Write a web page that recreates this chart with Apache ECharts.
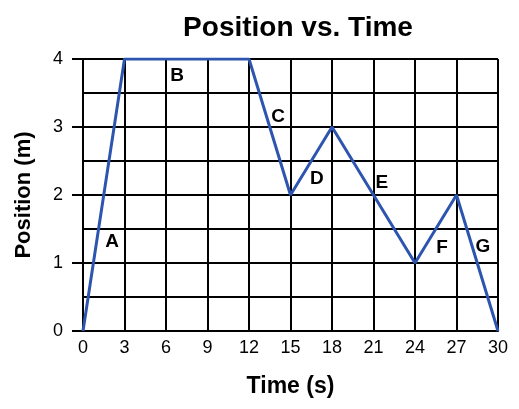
<!DOCTYPE html>
<html>
<head>
<meta charset="utf-8">
<script src="https://cdn.jsdelivr.net/npm/echarts@6/dist/echarts.min.js"></script>
<style>html,body{margin:0;padding:0;background:#fff;}#c{width:519px;height:409px;}</style>
</head>
<body>
<div id="c"></div>
<script>
var times = [0, 3, 6, 9, 12, 15, 18, 21, 24, 27, 30];
var positions = [0, 4, 4, 4, 4, 2, 3, 2, 1, 2, 0];
var segNames = ['A', 'B', 'C', 'D', 'E', 'F', 'G'];
var segLabelX = [2.1, 6.8, 14.1, 16.9, 21.6, 25.95, 28.9];
var segLabelY = [1.31, 3.76, 3.15, 2.24, 2.18, 1.22, 1.24];

var lineData = times.map(function (t, i) { return [t, positions[i]]; });
var labelData = segNames.map(function (n, i) { return { name: n, value: [segLabelX[i], segLabelY[i]] }; });

var chart = echarts.init(document.getElementById('c'));
chart.setOption({
  animation: false,
  backgroundColor: '#fff',
  title: {
    text: 'Position vs. Time',
    left: 293,
    textAlign: 'center',
    top: 9,
    textStyle: { fontFamily: 'Liberation Sans, Arial, sans-serif', fontSize: 28, fontWeight: 'bold', color: '#000' }
  },
  grid: { left: 83, right: 21, top: 59, bottom: 78 },
  xAxis: {
    type: 'value', min: 0, max: 30, interval: 3,
    name: 'Time (s)', nameLocation: 'middle', nameGap: 44,
    nameTextStyle: { fontFamily: 'Liberation Sans, Arial, sans-serif', fontSize: 23, fontWeight: 'bold', color: '#000' },
    axisLine: { show: true, lineStyle: { color: '#000', width: 2 } },
    axisTick: { show: false },
    axisLabel: { margin: 8, fontFamily: 'Liberation Sans, Arial, sans-serif', fontSize: 18, color: '#000' },
    splitLine: { show: true, lineStyle: { color: '#000', width: 2 } }
  },
  yAxis: {
    type: 'value', min: 0, max: 4, interval: 1,
    name: 'Position (m)', nameLocation: 'middle', nameGap: 48,
    nameTextStyle: { fontFamily: 'Liberation Sans, Arial, sans-serif', fontSize: 22, fontWeight: 'bold', color: '#000' },
    axisLine: { show: true, lineStyle: { color: '#000', width: 2 } },
    axisTick: { show: true, inside: false, length: 11, lineStyle: { color: '#000', width: 2 } },
    axisLabel: { margin: 20, fontFamily: 'Liberation Sans, Arial, sans-serif', fontSize: 18, color: '#000' },
    splitLine: { show: true, lineStyle: { color: '#000', width: 2 } },
    minorTick: { show: false, splitNumber: 2 },
    minorSplitLine: { show: true, lineStyle: { color: '#000', width: 2 } }
  },
  series: [
    {
      type: 'line', data: lineData, symbol: 'none',
      lineStyle: { color: '#2d55b0', width: 3 }, z: 3
    },
    {
      type: 'scatter', data: labelData, symbolSize: 1,
      itemStyle: { color: 'rgba(0,0,0,0)' },
      label: {
        show: true, position: 'inside', formatter: '{b}',
        textBorderWidth: 0, opacity: 1,
        fontFamily: 'Liberation Sans, Arial, sans-serif', fontSize: 19, fontWeight: 'bold', color: '#000'
      },
      z: 4
    }
  ]
});
</script>
</body>
</html>
